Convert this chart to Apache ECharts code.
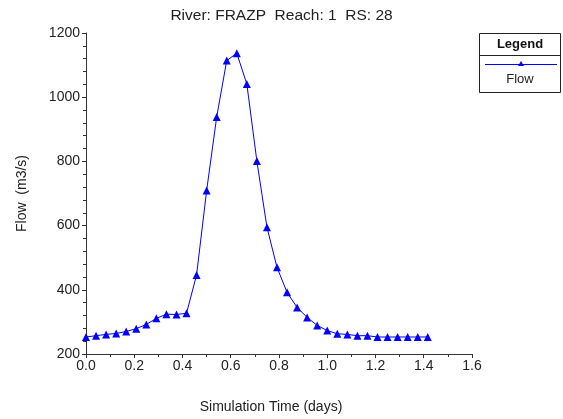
<!DOCTYPE html>
<html>
<head>
<meta charset="utf-8">
<script src="https://cdn.jsdelivr.net/npm/echarts@6/dist/echarts.min.js"></script>
<style>
html,body{margin:0;padding:0;background:#fff;}
#chart{width:563px;height:419px;}
</style>
</head>
<body>
<div id="chart"></div>
<script>
var titleText = 'River: FRAZP  Reach: 1  RS: 28';
var xAxisTitle = 'Simulation Time (days)';
var yAxisTitle = 'Flow  (m3/s)';
var seriesName = 'Flow';
var legendTitle = 'Legend';

var times = [0.0000, 0.0417, 0.0833, 0.1250, 0.1667, 0.2083, 0.2500, 0.2917, 0.3333, 0.3750,
             0.4167, 0.4583, 0.5000, 0.5417, 0.5833, 0.6250, 0.6667, 0.7083, 0.7500, 0.7917,
             0.8333, 0.8750, 0.9167, 0.9583, 1.0000, 1.0417, 1.0833, 1.1250, 1.1667, 1.2083,
             1.2500, 1.2917, 1.3333, 1.3750, 1.4167];
var flows = [253, 257, 261, 264, 270, 279, 292, 311, 324, 323,
             327, 446, 709, 938, 1114, 1137, 1041, 801, 595, 470,
             392, 345, 314, 289, 273, 263, 261, 257, 257, 253,
             253, 253, 253, 253, 253];

var xMin = 0, xMax = 1.6, xStep = 0.2;
var yMin = 200, yMax = 1200, yStep = 200;

var points = times.map(function (t, i) { return [t, flows[i]]; });

var chart = echarts.init(document.getElementById('chart'), null, {renderer: 'canvas'});
var font = 'Liberation Sans, Arial, sans-serif';
var axisColor = '#333';
var lineColor = '#0000ff';

chart.setOption({
  animation: false,
  backgroundColor: '#fff',
  textStyle: {fontFamily: font},
  title: {
    text: titleText,
    left: 'center',
    top: 3,
    textStyle: {fontFamily: font, fontSize: 15.5, fontWeight: 'normal', color: '#222'}
  },
  grid: {left: 86, right: 91, top: 33, bottom: 58, containLabel: false},
  xAxis: {
    type: 'value',
    min: xMin, max: xMax, interval: xStep,
    name: xAxisTitle,
    nameLocation: 'middle',
    nameGap: 46,
    nameTextStyle: {fontFamily: font, fontSize: 14, color: '#222', padding: [0, 16, 0, 0]},
    axisLine: {show: true, lineStyle: {color: axisColor, width: 1}},
    axisTick: {show: true, inside: false, length: 4, lineStyle: {color: axisColor}},
    minorTick: {show: true, splitNumber: 2, length: 3, lineStyle: {color: axisColor}},
    splitLine: {show: false},
    axisLabel: {
      fontFamily: font, fontSize: 14, color: '#222', margin: 5,
      formatter: function (v) { return v.toFixed(1); }
    }
  },
  yAxis: {
    type: 'value',
    min: yMin, max: yMax, interval: yStep,
    name: yAxisTitle,
    nameLocation: 'middle',
    nameGap: 57,
    nameTextStyle: {fontFamily: font, fontSize: 14, color: '#222'},
    axisLine: {show: true, lineStyle: {color: axisColor, width: 1}},
    axisTick: {show: true, inside: false, length: 4, lineStyle: {color: axisColor}},
    minorTick: {show: true, splitNumber: 5, length: 3, lineStyle: {color: axisColor}},
    splitLine: {show: false},
    axisLabel: {
      fontFamily: font, fontSize: 14, color: '#222', margin: 6,
      formatter: function (v) { return String(v); }
    }
  },
  series: [{
    name: seriesName,
    type: 'line',
    data: points,
    symbol: 'triangle',
    symbolSize: 8,
    showAllSymbol: true,
    lineStyle: {color: lineColor, width: 1},
    itemStyle: {color: lineColor}
  }],
  graphic: [
    {type: 'rect', shape: {x: 479.5, y: 33.5, width: 81, height: 59},
     style: {fill: '#fff', stroke: '#222', lineWidth: 1}},
    {type: 'line', shape: {x1: 479.5, y1: 55.5, x2: 560.5, y2: 55.5},
     style: {stroke: '#222', lineWidth: 1}},
    {type: 'text', x: 520, y: 44,
     style: {text: legendTitle, fill: '#111', font: 'bold 13px ' + font, textAlign: 'center', textVerticalAlign: 'middle'}},
    {type: 'line', shape: {x1: 485, y1: 64.5, x2: 557, y2: 64.5},
     style: {stroke: lineColor, lineWidth: 1}},
    {type: 'polygon', shape: {points: [[521, 61], [524, 66], [518, 66]]},
     style: {fill: lineColor}},
    {type: 'text', x: 520, y: 79,
     style: {text: seriesName, fill: '#222', font: '13px ' + font, textAlign: 'center', textVerticalAlign: 'middle'}}
  ]
});
</script>
</body>
</html>
